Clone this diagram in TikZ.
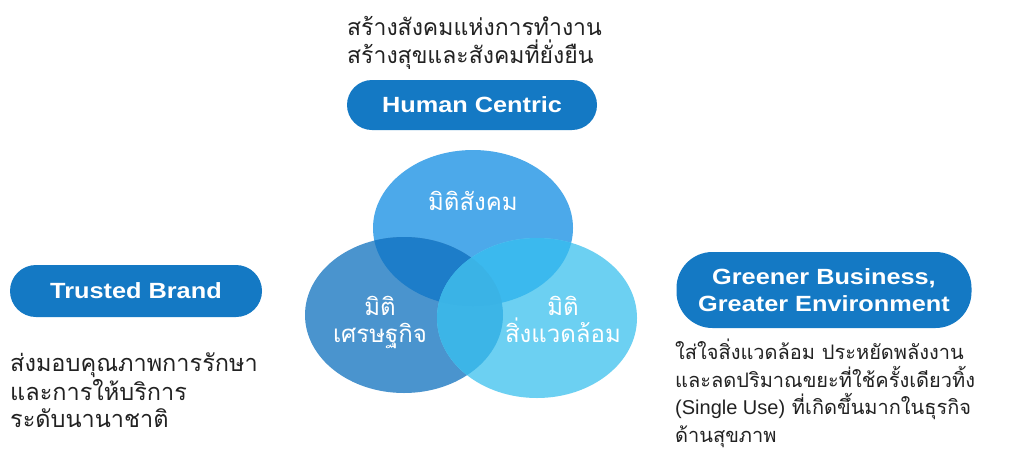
\documentclass[tikz,border=0pt]{standalone}
\usepackage{fontspec}
\setmainfont{Liberation Sans}
\newfontfamily\thaifont[Script=Thai]{Loma}
\newfontfamily\pillfont[FakeStretch=1.15]{Liberation Sans Bold}
\usetikzlibrary{positioning}

\definecolor{pillblue}{HTML}{1479C4}
\definecolor{textgray}{HTML}{222222}
\definecolor{socblue}{HTML}{4CA9EA}
\definecolor{ecoblue}{HTML}{4A94CE}
\definecolor{envblue}{HTML}{6CD0F2}
\definecolor{socecoblue}{HTML}{1D7DC9}
\definecolor{socenvblue}{HTML}{3BB9EE}
\definecolor{ecoenvblue}{HTML}{3CB5E7}
\definecolor{allblue}{HTML}{3AB3E6}

\begin{document}
\begin{tikzpicture}[%
		x=1pt,
		y=-1pt,
		pill/.style={%
			rounded corners=25pt,
			fill=pillblue,
			text=white,
			font=\pillfont\fontsize{22}{27}\selectfont,
			inner sep=0pt,
			minimum width=250pt,
			minimum height=50pt,
			align=center
		},
		thaitext/.style={%
			font=\thaifont\fontsize{23}{28}\selectfont,
			text=textgray,
			align=left,
			inner sep=0pt,
			anchor=base west
		},
		dimtext/.style={%
			font=\thaifont\fontsize{24}{27}\selectfont,
			text=white,
			align=center,
			inner sep=0pt,
			anchor=base
		}
		]
		\useasboundingbox[fill=white] (0,0) rectangle (1030,450);
		
		% the three circles
		\coordinate (soc) at (473,228);
		\coordinate (eco) at (404,315);
		\coordinate (env) at (537,318);
		\fill[socblue] (soc) ellipse [x radius=100pt, y radius=78pt];
		\fill[ecoblue] (eco) ellipse [x radius=99pt, y radius=78pt];
		\fill[envblue] (env) ellipse [x radius=100pt, y radius=80pt];
		\begin{scope}
			\clip (soc) ellipse [x radius=100pt, y radius=78pt];
			\fill[socecoblue] (eco) ellipse [x radius=99pt, y radius=78pt];
			\fill[socenvblue] (env) ellipse [x radius=100pt, y radius=80pt];
		\end{scope}
		\begin{scope}
			\clip (eco) ellipse [x radius=99pt, y radius=78pt];
			\fill[ecoenvblue] (env) ellipse [x radius=100pt, y radius=80pt];
			\clip (env) ellipse [x radius=100pt, y radius=80pt];
			\fill[allblue] (soc) ellipse [x radius=100pt, y radius=78pt];
		\end{scope}
		
		\node[dimtext] (socname) at (473,210) {มิติสังคม};
		\node[dimtext] (econame) at (380,342) {มิติ\\เศรษฐกิจ};
		\node[dimtext] (envname) at (563,342) {มิติ\\สิ่งแวดล้อม};
		
		% labels
		\node[pill] (human) at (472,105) {Human Centric};
		\node[pill, minimum width=252pt, minimum height=52pt, rounded corners=26pt] (trusted) at (136,291) {Trusted Brand};
		\node[pill, minimum width=295pt, minimum height=76pt, rounded corners=36pt] (greener) at (824,290) {Greener Business,\\Greater Environment};
		
		\node[thaitext] (humantext) at (347,63) {สร้างสังคมแห่งการทำงาน\\สร้างสุขและสังคมที่ยั่งยืน};
		\node[thaitext, font=\thaifont\fontsize{23.5}{27}\selectfont] (trustedtext) at (10,427) {ส่งมอบคุณภาพการรักษา\\และการให้บริการ\\ระดับนานาชาติ};
		\node[thaitext, font=\thaifont\fontsize{20}{27.5}\selectfont] (greenertext) at (675,442) {ใส่ใจสิ่งแวดล้อม ประหยัดพลังงาน\\และลดปริมาณขยะที่ใช้ครั้งเดียวทิ้ง\\{\fontspec{Liberation Sans}(Single Use)} ที่เกิดขึ้นมากในธุรกิจ\\ด้านสุขภาพ};
\end{tikzpicture}
\end{document}
